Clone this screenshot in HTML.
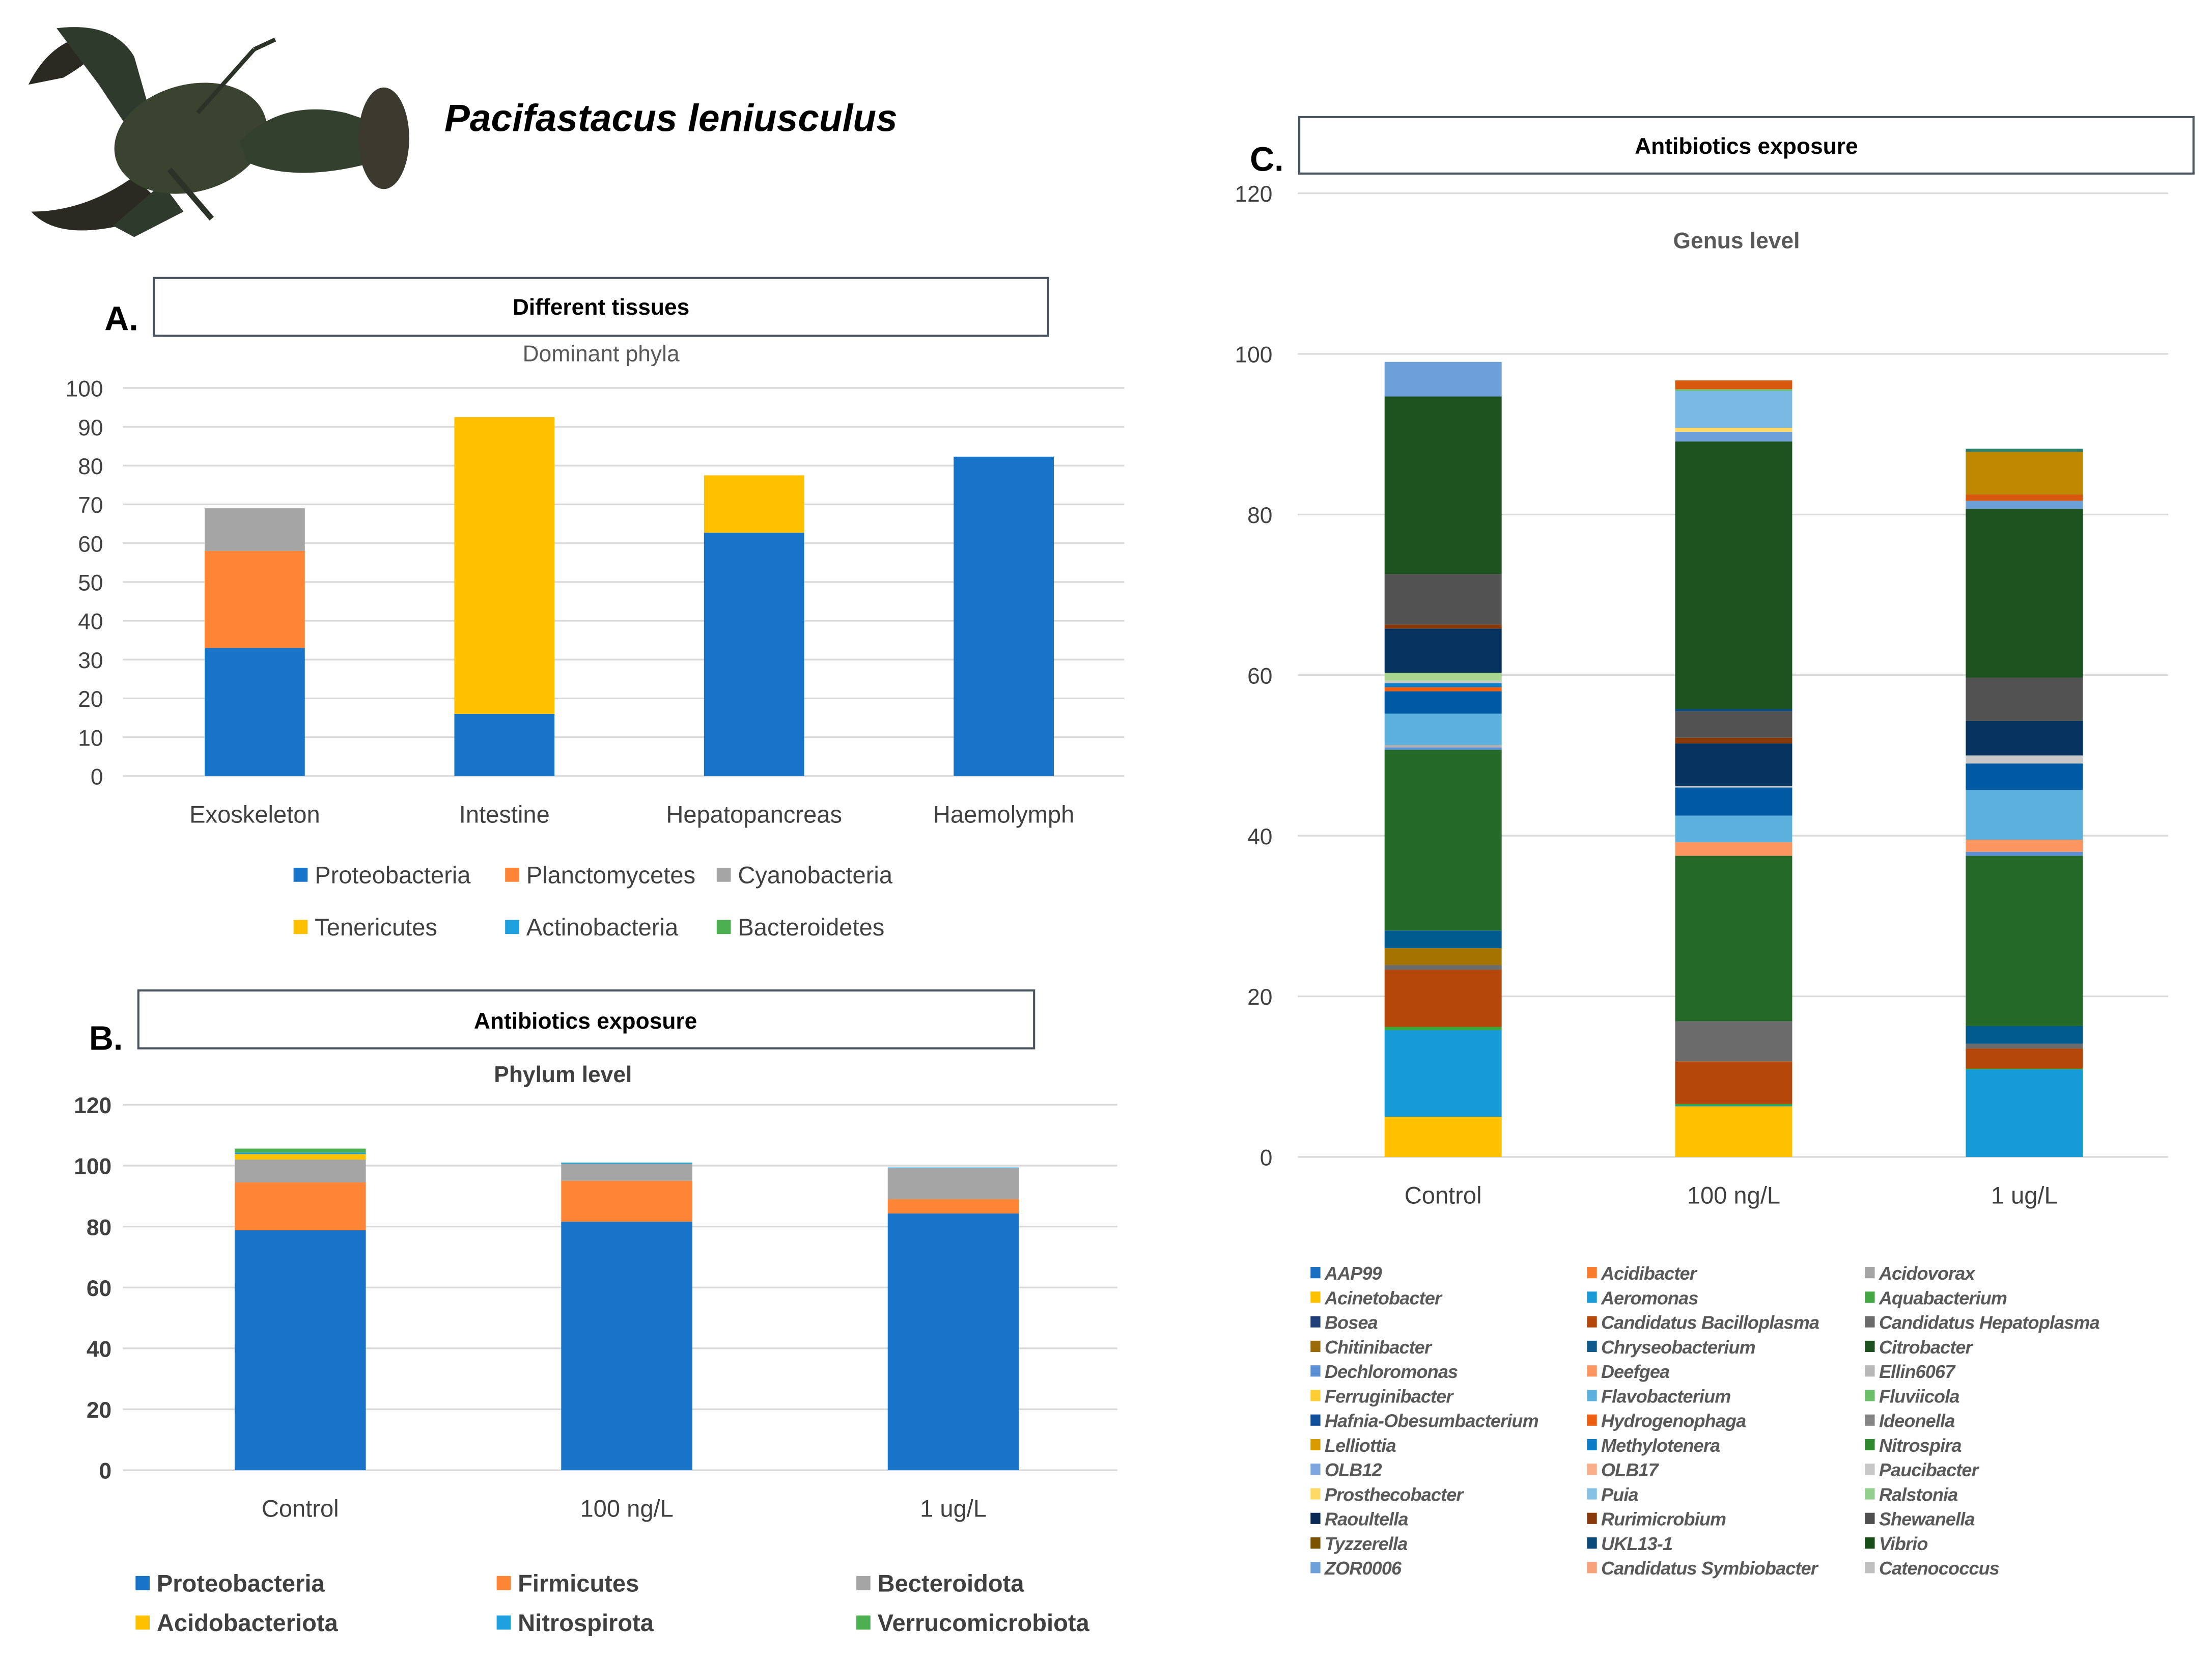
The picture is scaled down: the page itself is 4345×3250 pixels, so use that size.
<!DOCTYPE html>
<html><head><meta charset="utf-8"><style>
html,body{margin:0;padding:0;background:#fff;width:4345px;height:3250px;overflow:hidden}
svg{display:block}
text{font-family:"Liberation Sans",sans-serif}
</style></head><body>
<svg id="fig" width="4345" height="3250" viewBox="0 0 1568 1173" xmlns="http://www.w3.org/2000/svg">
<g>
<path d="M20 60 Q40 20 80 25 Q70 40 45 55 Z" fill="#2b2a22"/>
<path d="M40 20 Q80 15 95 40 L105 75 L90 90 L70 60 Z" fill="#2e3a2c"/>
<path d="M22 150 Q40 170 85 160 L110 140 L95 125 Q60 150 22 150 Z" fill="#2b2a22"/>
<path d="M80 160 L115 130 L130 150 L95 168 Z" fill="#2e3a2c"/>
<ellipse cx="135" cy="98" rx="55" ry="38" transform="rotate(-15 135 98)" fill="#3a4230"/>
<path d="M170 100 Q200 70 245 80 L260 85 L265 115 Q210 130 175 115 Z" fill="#34402e"/>
<ellipse cx="272" cy="98" rx="18" ry="36" fill="#3c3a2e"/>
<line x1="140" y1="80" x2="180" y2="35" stroke="#2b3328" stroke-width="3"/>
<line x1="180" y1="35" x2="195" y2="28" stroke="#2b3328" stroke-width="3"/>
<line x1="120" y1="120" x2="150" y2="155" stroke="#2b3328" stroke-width="4"/>
</g>
<text x="315" y="93" font-size="27" font-weight="bold" font-style="italic" fill="#000">Pacifastacus leniusculus</text>

<text x="74" y="234" font-size="24" font-weight="bold">A.</text>
<rect x="109" y="197" width="634" height="41" fill="#fff" stroke="#4a5560" stroke-width="1.5"/>
<text x="426" y="223" font-size="16" font-weight="bold" text-anchor="middle">Different tissues</text>
<text x="426" y="256" font-size="16" fill="#595959" text-anchor="middle">Dominant phyla</text>
<g id="chartA"></g>

<text x="63" y="744" font-size="24" font-weight="bold">B.</text>
<rect x="98" y="702" width="635" height="41" fill="#fff" stroke="#4a5560" stroke-width="1.5"/>
<text x="415" y="729" font-size="16" font-weight="bold" text-anchor="middle">Antibiotics exposure</text>
<text x="399" y="767" font-size="16" font-weight="bold" fill="#404040" text-anchor="middle">Phylum level</text>
<g id="chartB"></g>

<text x="886" y="121" font-size="24" font-weight="bold">C.</text>
<rect x="921" y="83" width="634" height="40" fill="#fff" stroke="#4a5560" stroke-width="1.5"/>
<text x="1238" y="109" font-size="16" font-weight="bold" text-anchor="middle">Antibiotics exposure</text>
<text x="1231" y="176" font-size="16" font-weight="bold" fill="#595959" text-anchor="middle">Genus level</text>
<g id="chartC"></g>
</svg>
<script>
// ---------- Chart A data ----------
const catsA = ["Exoskeleton","Intestine","Hepatopancreas","Haemolymph"];
const seriesA = ["Proteobacteria","Planctomycetes","Cyanobacteria","Tenericutes","Actinobacteria","Bacteroidetes"];
const proteoA = [33, 16, 62.7, 82.3];
const planctoA = [25, 0, 0, 0];
const cyanoA = [11, 0, 0, 0];
const teneA = [0, 76.5, 14.8, 0];
const actinoA = [0, 0, 0, 0];
const bactA = [0, 0, 0, 0];
const ticksA = [0,10,20,30,40,50,60,70,80,90,100];
const colorsA = ["#1874c8","#fd8535","#a5a5a5","#ffc000","#1fa1df","#4caf50"];

// ---------- Chart B data ----------
const catsB = ["Control","100  ng/L","1 ug/L"];
const seriesB = ["Proteobacteria","Firmicutes","Becteroidota","Acidobacteriota","Nitrospirota","Verrucomicrobiota"];
const proteoB = [78.8, 81.6, 84.3];
const firmB = [15.7, 13.4, 4.7];
const bacteroB = [7.5, 5.6, 10.2];
const acidoB = [1.8, 0, 0];
const nitroB = [0.5, 0.4, 0.2];
const verrucoB = [1.3, 0, 0];
const ticksB = [0,20,40,60,80,100,120];

// ---------- Chart C data ----------
const catsC = ["Control","100  ng/L","1 ug/L"];
const legendC = ["AAP99","Acidibacter","Acidovorax","Acinetobacter","Aeromonas","Aquabacterium","Bosea","Candidatus Bacilloplasma","Candidatus Hepatoplasma","Chitinibacter","Chryseobacterium","Citrobacter","Dechloromonas","Deefgea","Ellin6067","Ferruginibacter","Flavobacterium","Fluviicola","Hafnia-Obesumbacterium","Hydrogenophaga","Ideonella","Lelliottia","Methylotenera","Nitrospira","OLB12","OLB17","Paucibacter","Prosthecobacter","Puia","Ralstonia","Raoultella","Rurimicrobium","Shewanella","Tyzzerella","UKL13-1","Vibrio","ZOR0006","Candidatus Symbiobacter","Catenococcus"];
const legendColorsC = ["#1a6fc4","#fb7b2c","#a5a5a5","#ffc000","#1a9ad6","#43a843","#1f3f7a","#b4460a","#6b6b6b","#9c6a06","#0e5a8c","#1b521d","#5b8fd6","#fc9560","#b8b8b8","#ffcc33","#5bb0de","#6abf69","#0f4f9c","#ee5e10","#868686","#d99b00","#0a7cc8","#2f8a2f","#7fa6e0","#fbae8a","#c8c8c8","#ffd966","#86c1e6","#93cf8d","#0a2a55","#8a3a0a","#4f4f4f","#7b5200","#0a4a7a","#174d17","#6d9fd9","#f8a27c","#c0c0c0"];
const stackC = ["Acinetobacter","Aeromonas","Aquabacterium","Candidatus Bacilloplasma","Candidatus Hepatoplasma","Chitinibacter","Chryseobacterium","Citrobacter","Dechloromonas","Deefgea","Ellin6067","Flavobacterium","Hafnia-Obesumbacterium","Hydrogenophaga","Methylotenera","Paucibacter","Ralstonia","Raoultella","Rurimicrobium","Shewanella","UKL13-1","Vibrio","ZOR0006","Ferruginibacter","Puia","Fluviicola","Acidibacter","Lelliottia","Nitrospira"];
const stackColorsC = ["#ffc000","#169bd6","#3aa63a","#b4460a","#6b6b6b","#a57300","#005a8e","#256929","#5b8fd6","#fc9560","#b0b0b0","#5bb0de","#005aa3","#ee5e10","#0a7cc8","#c8c8c8","#a8d58f","#06325f","#8a3a0a","#525252","#0a4a7a","#1b521d","#6d9fd9","#ffd966","#79b9e3","#6abf69","#d8580e","#c08800","#2f7f6f"];
const controlC = [5.0,10.8,0.4,7.1,0.6,2.1,2.2,22.5,0.3,0,0.3,3.9,2.8,0.5,0.5,0.3,1.0,5.5,0.5,6.3,0,22.1,4.3,0,0,0,0,0,0];
const ng100C = [6.3,0.1,0.2,5.3,5.0,0,0,20.6,0,1.7,0,3.3,3.5,0,0,0.2,0,5.3,0.7,3.3,0.3,33.3,1.2,0.5,4.6,0.2,1.1,0,0];
const ug1C = [0,10.9,0.1,2.5,0.6,0,2.2,21.2,0.5,1.5,0,6.2,3.3,0,0,1.0,0,4.3,0,5.4,0,21.0,1.0,0,0,0,0.8,5.3,0.4];
const ticksC = [0,20,40,60,80,100,120];

const NS = "http://www.w3.org/2000/svg";
function mk(parent, tag, attrs, txt){
  const e = document.createElementNS(NS, tag);
  for (const k in attrs) e.setAttribute(k, attrs[k]);
  if (txt !== undefined) e.textContent = txt;
  parent.appendChild(e);
  return e;
}

function drawStacked(g, opt){
  const y = v => opt.y0 - v * (opt.y0 - opt.yTop) / opt.vTop;
  const x = i => opt.xStart + opt.band * (i + 0.5);
  opt.ticks.forEach(t => {
    const ln = mk(g, "line", {x1: opt.gx1, x2: opt.gx2, y1: y(t), y2: y(t), stroke: "#d9d9d9", "stroke-width": 1.2});
    
    
    const tl = mk(g, "text", {x: opt.tickX, y: y(t) + 6, "font-size": opt.tickFont, "text-anchor": "end", fill: opt.tickColor, "font-weight": opt.tickWeight}, String(t));
    
    
  });
  opt.cats.forEach((c, i) => {
    let acc = 0;
    opt.series.forEach((s, si) => {
      const v = s[i];
      if (v > 0) {
        const r = mk(g, "rect", {x: x(i) - opt.barW / 2, y: y(acc + v), width: opt.barW, height: y(acc) - y(acc + v), fill: opt.colors[si]});
        
        
      }
      acc += v;
    });
    const cl = mk(g, "text", {x: x(i), y: opt.catY, "font-size": opt.catFont, "text-anchor": "middle", fill: "#404040"}, c);
    
    
  });
}

const gA = document.getElementById("chartA");
drawStacked(gA, {y0: 550, yTop: 275, vTop: 100, xStart: 92, band: 177, barW: 71, gx1: 87, gx2: 797, ticks: ticksA, tickX: 73, tickFont: 16, tickColor: "#404040", tickWeight: "normal", cats: catsA, catY: 583, catFont: 17, series: [proteoA, planctoA, cyanoA, teneA, actinoA, bactA], colors: colorsA});
const legAx = [208, 358, 508], legAy = [620, 657];
seriesA.forEach((s, i) => {
  const lx = legAx[i % 3], ly = legAy[Math.floor(i / 3)];
  const sw = mk(gA, "rect", {x: lx, y: ly - 5, width: 10, height: 10, fill: colorsA[i]});
  
  
  const t = mk(gA, "text", {x: lx + 15, y: ly + 6, "font-size": 17, fill: "#404040"}, s);
  
  
});

const gB = document.getElementById("chartB");
const colorsB = ["#1874c8","#fd8535","#a5a5a5","#ffc000","#1fa1df","#4caf50"];
drawStacked(gB, {y0: 1042, yTop: 783, vTop: 120, xStart: 97, band: 231.5, barW: 93, gx1: 87, gx2: 792, ticks: ticksB, tickX: 79, tickFont: 16, tickColor: "#404040", tickWeight: "bold", cats: catsB, catY: 1075, catFont: 17, series: [proteoB, firmB, bacteroB, acidoB, nitroB, verrucoB], colors: colorsB});
const legBx = [96, 352, 607], legBy = [1122, 1150];
seriesB.forEach((s, i) => {
  const lx = legBx[i % 3], ly = legBy[Math.floor(i / 3)];
  const sw = mk(gB, "rect", {x: lx, y: ly - 5, width: 10, height: 10, fill: colorsB[i]});
  
  
  const t = mk(gB, "text", {x: lx + 15, y: ly + 6, "font-size": 17, "font-weight": "bold", fill: "#404040"}, s);
  
  
});

const gC = document.getElementById("chartC");
const seriesC = stackC.map((s, si) => [controlC[si], ng100C[si], ug1C[si]]);
drawStacked(gC, {y0: 820, yTop: 137, vTop: 120, xStart: 920, band: 206, barW: 83, gx1: 920, gx2: 1537, ticks: ticksC, tickX: 902, tickFont: 16, tickColor: "#404040", tickWeight: "normal", cats: catsC, catY: 853, catFont: 17, series: seriesC, colors: stackColorsC});
const legCx = [929, 1125, 1322];
legendC.forEach((s, i) => {
  const lx = legCx[i % 3], ly = 902 + Math.floor(i / 3) * 17.42;
  const sw = mk(gC, "rect", {x: lx, y: ly - 4, width: 7, height: 8, fill: legendColorsC[i]});
  
  
  const t = mk(gC, "text", {x: lx + 10, y: ly + 5, "font-size": 13, "font-weight": "bold", "font-style": "italic", fill: "#595959", "letter-spacing": "-0.3"}, s);
  
  
});
</script>
</body></html>
